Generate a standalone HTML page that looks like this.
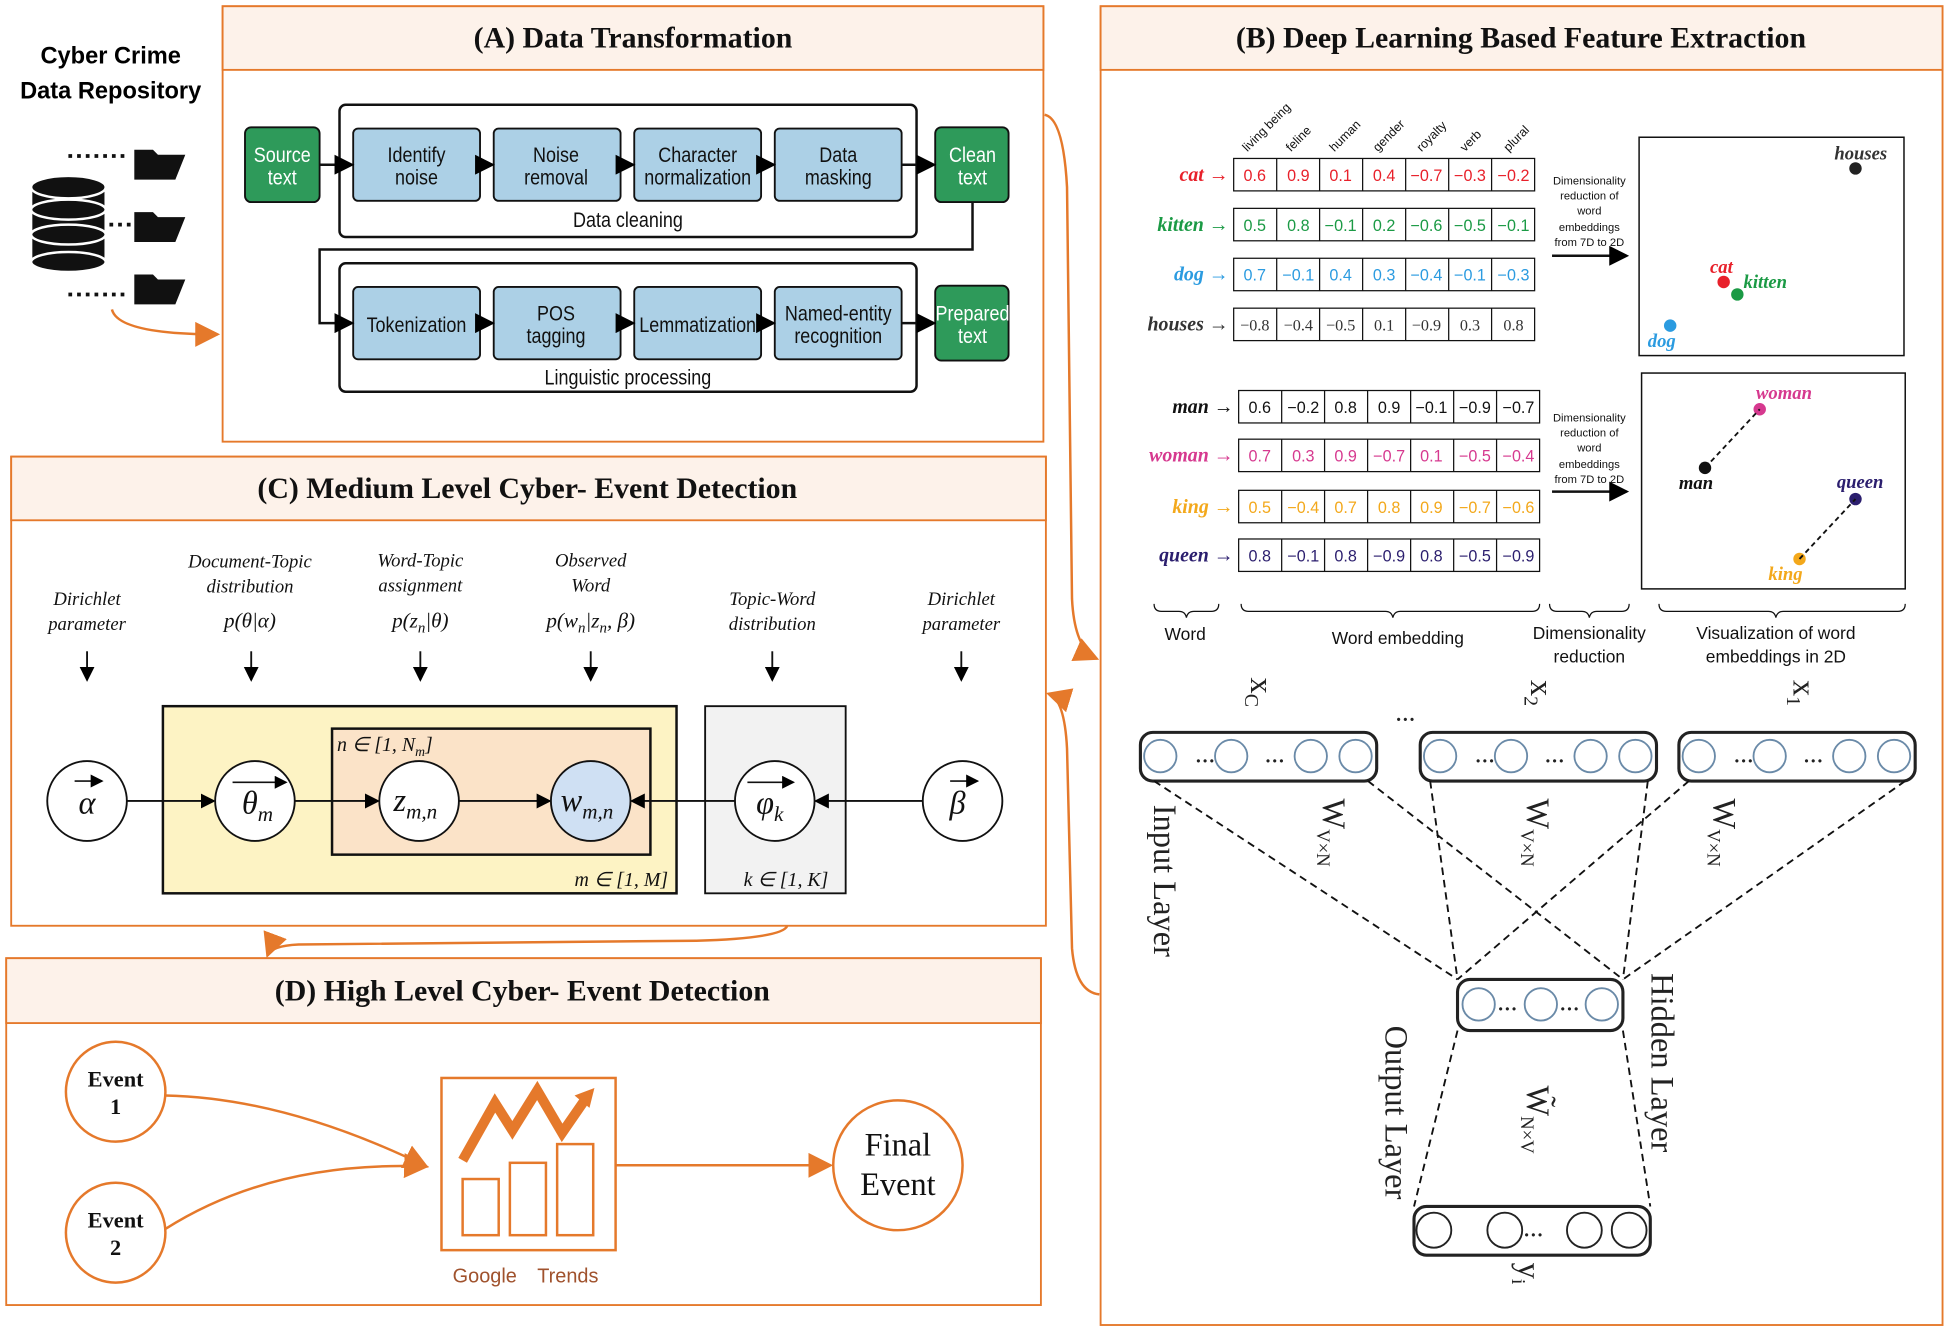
<!DOCTYPE html>
<html><head><meta charset="utf-8"><style>
html,body{margin:0;padding:0;background:#fff;}
svg{display:block}
.s{font-family:"Liberation Sans",sans-serif}
.r{font-family:"Liberation Serif",serif}
</style></head><body>
<svg width="1950" height="1330" viewBox="0 0 1568 1066" preserveAspectRatio="none" xmlns="http://www.w3.org/2000/svg">
<defs>
<marker id="ab" markerWidth="8" markerHeight="8" refX="7" refY="4" orient="auto"><path d="M0,0 L8,4 L0,8 z" fill="#000"/></marker>
<marker id="ao" markerWidth="10" markerHeight="10" refX="9" refY="5" orient="auto"><path d="M0,0 L10,5 L0,10 z" fill="#e5792b"/></marker>
</defs>
<rect width="1568" height="1066" fill="#fff"/>
<g stroke="#e5792b" stroke-width="1.5">
<rect x="179" y="5" width="660" height="349" fill="#fff"/><rect x="179" y="5" width="660" height="51" fill="#fdf2ea"/>
<rect x="885" y="5" width="677" height="1057" fill="#fff"/><rect x="885" y="5" width="677" height="51" fill="#fdf2ea"/>
<rect x="9" y="366" width="832" height="376" fill="#fff"/><rect x="9" y="366" width="832" height="51" fill="#fdf2ea"/>
<rect x="5" y="768" width="832" height="278" fill="#fff"/><rect x="5" y="768" width="832" height="52" fill="#fdf2ea"/>
</g>
<g class="r" font-weight="bold" font-size="24" text-anchor="middle" fill="#111">
<text x="509" y="38">(A) Data Transformation</text>
<text x="1223" y="38">(B) Deep Learning Based Feature Extraction</text>
<text x="424" y="399">(C) Medium Level Cyber- Event Detection</text>
<text x="420" y="802">(D) High Level Cyber- Event Detection</text>
</g>
<g class="s" font-weight="bold" font-size="19" text-anchor="middle"><text x="89" y="51">Cyber Crime</text><text x="89" y="79">Data Repository</text></g>
<g fill="#111" stroke="#fff" stroke-width="2">
<rect x="25" y="150" width="60" height="60"/>
<ellipse cx="55" cy="210" rx="30" ry="8"/>
<ellipse cx="55" cy="188" rx="30" ry="8"/>
<ellipse cx="55" cy="168" rx="30" ry="8"/>
<ellipse cx="55" cy="150" rx="30" ry="9"/>
</g>
<g stroke="#111" stroke-width="3" stroke-dasharray="3,4"><line x1="55" y1="125" x2="100" y2="125"/><line x1="55" y1="236" x2="100" y2="236"/><line x1="88" y1="180" x2="106" y2="180"/></g>
<g fill="#111"><path d="M108,120 h15 l4,4 h22 l-8,20 h-33z"/><path d="M108,170 h15 l4,4 h22 l-8,20 h-33z"/><path d="M108,220 h15 l4,4 h22 l-8,20 h-33z"/></g>
<path d="M90,248 Q95,268 175,268" fill="none" stroke="#e5792b" stroke-width="2" marker-end="url(#ao)"/>
<g fill="none" stroke="#111" stroke-width="2"><rect x="273" y="84" width="464" height="106" rx="5"/><rect x="273" y="211" width="464" height="103" rx="5"/></g>
<g stroke="#111" stroke-width="1.5">
<rect x="197" y="102" width="60" height="60" rx="5" fill="#2e9a5a"/><rect x="752" y="102" width="59" height="60" rx="5" fill="#2e9a5a"/><rect x="752" y="229" width="59" height="60" rx="5" fill="#2e9a5a"/>
<g fill="#acd0e6"><rect x="284" y="103" width="102" height="58" rx="4"/><rect x="397" y="103" width="102" height="58" rx="4"/><rect x="510" y="103" width="102" height="58" rx="4"/><rect x="623" y="103" width="102" height="58" rx="4"/>
<rect x="284" y="230" width="102" height="58" rx="4"/><rect x="397" y="230" width="102" height="58" rx="4"/><rect x="510" y="230" width="102" height="58" rx="4"/><rect x="623" y="230" width="102" height="58" rx="4"/></g>
</g>
<g stroke="#111" stroke-width="2" fill="none" marker-end="url(#ab)">
<line x1="257" y1="132" x2="283" y2="132"/><line x1="386" y1="132" x2="396" y2="132"/><line x1="499" y1="132" x2="509" y2="132"/><line x1="612" y1="132" x2="622" y2="132"/><line x1="725" y1="132" x2="751" y2="132"/>
<path d="M782,162 V200 H257 V259 H283"/><line x1="386" y1="259" x2="396" y2="259"/><line x1="499" y1="259" x2="509" y2="259"/><line x1="612" y1="259" x2="622" y2="259"/><line x1="725" y1="259" x2="751" y2="259"/>
</g>
<g class="s" font-size="17" text-anchor="middle" fill="#111" transform="scale(0.85,1)">
<g fill="#fff"><text x="267" y="130">Source</text><text x="267" y="148">text</text><text x="920" y="130">Clean</text><text x="920" y="148">text</text><text x="920" y="257">Prepared</text><text x="920" y="275">text</text></g>
<text x="394" y="130">Identify</text><text x="394" y="148">noise</text>
<text x="526" y="130">Noise</text><text x="526" y="148">removal</text>
<text x="660" y="130">Character</text><text x="660" y="148">normalization</text>
<text x="793" y="130">Data</text><text x="793" y="148">masking</text>
<text x="594" y="182">Data cleaning</text>
<text x="394" y="266">Tokenization</text>
<text x="526" y="257">POS</text><text x="526" y="275">tagging</text>
<text x="660" y="266">Lemmatization</text>
<text x="793" y="257">Named-entity</text><text x="793" y="275">recognition</text>
<text x="594" y="308">Linguistic processing</text>
</g>
<g class="s" font-size="10" fill="#111">
<text transform="translate(1003,122) rotate(-45)">living being</text><text transform="translate(1038,122) rotate(-45)">feline</text><text transform="translate(1073,122) rotate(-45)">human</text><text transform="translate(1108,122) rotate(-45)">gender</text><text transform="translate(1143,122) rotate(-45)">royalty</text><text transform="translate(1178,122) rotate(-45)">verb</text><text transform="translate(1213,122) rotate(-45)">plural</text>
</g>
<g class="r" font-style="italic" font-weight="bold" text-anchor="end" font-size="16">
<text x="988" y="145" fill="#e8202a">cat →</text><text x="988" y="185" fill="#1b9a45">kitten →</text><text x="988" y="225" fill="#2b9be0">dog →</text><text x="988" y="265" fill="#333">houses →</text>
<text x="992" y="331" fill="#111">man →</text><text x="992" y="370" fill="#d6398f">woman →</text><text x="992" y="411" fill="#f3a81b">king →</text><text x="992" y="450" fill="#2b1e6e">queen →</text>
</g>
<g stroke="#111" stroke-width="1" fill="none">
<rect x="992" y="127" width="242" height="26"/><rect x="992" y="167" width="242" height="26"/><rect x="992" y="207" width="242" height="26"/><rect x="992" y="247" width="242" height="26"/>
<rect x="996" y="313" width="242" height="26"/><rect x="996" y="352" width="242" height="26"/><rect x="996" y="393" width="242" height="26"/><rect x="996" y="432" width="242" height="26"/>
<path d="M1026.6,127v26M1061.1,127v26M1095.7,127v26M1130.3,127v26M1164.9,127v26M1199.4,127v26 M1026.6,167v26M1061.1,167v26M1095.7,167v26M1130.3,167v26M1164.9,167v26M1199.4,167v26 M1026.6,207v26M1061.1,207v26M1095.7,207v26M1130.3,207v26M1164.9,207v26M1199.4,207v26 M1026.6,247v26M1061.1,247v26M1095.7,247v26M1130.3,247v26M1164.9,247v26M1199.4,247v26"/>
<path d="M1030.6,313v26M1065.1,313v26M1099.7,313v26M1134.3,313v26M1168.9,313v26M1203.4,313v26 M1030.6,352v26M1065.1,352v26M1099.7,352v26M1134.3,352v26M1168.9,352v26M1203.4,352v26 M1030.6,393v26M1065.1,393v26M1099.7,393v26M1134.3,393v26M1168.9,393v26M1203.4,393v26 M1030.6,432v26M1065.1,432v26M1099.7,432v26M1134.3,432v26M1168.9,432v26M1203.4,432v26"/>
</g>
<g class="s" font-size="13" text-anchor="middle">
<g fill="#e8202a"><text x="1009" y="145">0.6</text><text x="1044" y="145">0.9</text><text x="1078" y="145">0.1</text><text x="1113" y="145">0.4</text><text x="1147" y="145">−0.7</text><text x="1182" y="145">−0.3</text><text x="1217" y="145">−0.2</text></g>
<g fill="#1b9a45"><text x="1009" y="185">0.5</text><text x="1044" y="185">0.8</text><text x="1078" y="185">−0.1</text><text x="1113" y="185">0.2</text><text x="1147" y="185">−0.6</text><text x="1182" y="185">−0.5</text><text x="1217" y="185">−0.1</text></g>
<g fill="#2b9be0"><text x="1009" y="225">0.7</text><text x="1044" y="225">−0.1</text><text x="1078" y="225">0.4</text><text x="1113" y="225">0.3</text><text x="1147" y="225">−0.4</text><text x="1182" y="225">−0.1</text><text x="1217" y="225">−0.3</text></g>
<g fill="#333" class="r"><text x="1009" y="265">−0.8</text><text x="1044" y="265">−0.4</text><text x="1078" y="265">−0.5</text><text x="1113" y="265">0.1</text><text x="1147" y="265">−0.9</text><text x="1182" y="265">0.3</text><text x="1217" y="265">0.8</text></g>
<g fill="#111"><text x="1013" y="331">0.6</text><text x="1048" y="331">−0.2</text><text x="1082" y="331">0.8</text><text x="1117" y="331">0.9</text><text x="1151" y="331">−0.1</text><text x="1186" y="331">−0.9</text><text x="1221" y="331">−0.7</text></g>
<g fill="#d6398f"><text x="1013" y="370">0.7</text><text x="1048" y="370">0.3</text><text x="1082" y="370">0.9</text><text x="1117" y="370">−0.7</text><text x="1151" y="370">0.1</text><text x="1186" y="370">−0.5</text><text x="1221" y="370">−0.4</text></g>
<g fill="#f3a81b"><text x="1013" y="411">0.5</text><text x="1048" y="411">−0.4</text><text x="1082" y="411">0.7</text><text x="1117" y="411">0.8</text><text x="1151" y="411">0.9</text><text x="1186" y="411">−0.7</text><text x="1221" y="411">−0.6</text></g>
<g fill="#2b1e6e"><text x="1013" y="450">0.8</text><text x="1048" y="450">−0.1</text><text x="1082" y="450">0.8</text><text x="1117" y="450">−0.9</text><text x="1151" y="450">0.8</text><text x="1186" y="450">−0.5</text><text x="1221" y="450">−0.9</text></g>
</g>
<g class="s" font-size="9" text-anchor="middle" fill="#111">
<text x="1278" y="148">Dimensionality</text><text x="1278" y="160">reduction of</text><text x="1278" y="172">word</text><text x="1278" y="185">embeddings</text><text x="1278" y="197">from 7D to 2D</text>
<text x="1278" y="338">Dimensionality</text><text x="1278" y="350">reduction of</text><text x="1278" y="362">word</text><text x="1278" y="375">embeddings</text><text x="1278" y="387">from 7D to 2D</text>
</g>
<g stroke="#111" stroke-width="2" marker-end="url(#ab)"><line x1="1248" y1="205" x2="1308" y2="205"/><line x1="1248" y1="394" x2="1308" y2="394"/></g>
<g fill="none" stroke="#111" stroke-width="1.2"><rect x="1318" y="110" width="213" height="175"/><rect x="1320" y="299" width="212" height="173"/></g>
<g class="r" font-style="italic" font-weight="bold" font-size="15">
<circle cx="1492" cy="135" r="5" fill="#222"/><text x="1475" y="128" fill="#333">houses</text>
<circle cx="1386" cy="226" r="5" fill="#e8202a"/><text x="1375" y="219" fill="#e8202a">cat</text>
<circle cx="1397" cy="236" r="5" fill="#1b9a45"/><text x="1402" y="231" fill="#1b9a45">kitten</text>
<circle cx="1343" cy="261" r="5" fill="#2b9be0"/><text x="1325" y="278" fill="#2b9be0">dog</text>
<circle cx="1415" cy="328" r="5" fill="#d6398f"/><text x="1412" y="320" fill="#d6398f">woman</text>
<circle cx="1371" cy="375" r="5" fill="#111"/><text x="1350" y="392" fill="#111">man</text>
<circle cx="1492" cy="400" r="5" fill="#2b1e6e"/><text x="1477" y="391" fill="#2b1e6e">queen</text>
<circle cx="1447" cy="448" r="5" fill="#f3a81b"/><text x="1422" y="465" fill="#f3a81b">king</text>
</g>
<g stroke="#111" stroke-width="1.5" stroke-dasharray="4,3"><line x1="1371" y1="375" x2="1415" y2="328"/><line x1="1447" y1="448" x2="1492" y2="400"/></g>
<g fill="none" stroke="#111" stroke-width="1"><path d="M928,484 q0,6 6,6 h14 q5,0 6,5 q1,-5 6,-5 h14 q6,0 6,-6"/><path d="M998,484 q0,6 6,6 h110 q5,0 6,5 q1,-5 6,-5 h106 q6,0 6,-6"/><path d="M1246,484 q0,6 6,6 h20 q5,0 6,5 q1,-5 6,-5 h20 q6,0 6,-6"/><path d="M1334,484 q0,6 6,6 h82 q5,0 6,5 q1,-5 6,-5 h92 q6,0 6,-6"/></g>
<g class="s" font-size="14" text-anchor="middle" fill="#111"><text x="953" y="513">Word</text><text x="1124" y="516">Word embedding</text><text x="1278" y="512">Dimensionality</text><text x="1278" y="531">reduction</text><text x="1428" y="512">Visualization of word</text><text x="1428" y="531">embeddings  in 2D</text></g>
<g stroke="#222" stroke-width="2.5" fill="#fff"><rect x="917" y="587" width="190" height="39" rx="10"/><rect x="1142" y="587" width="190" height="39" rx="10"/><rect x="1350" y="587" width="190" height="39" rx="10"/><rect x="1172" y="785" width="133" height="41" rx="10"/><rect x="1137" y="967" width="190" height="39" rx="10"/></g>
<g stroke="#6a8aa8" stroke-width="1.5" fill="#fff">
<circle cx="933" cy="606" r="13"/><circle cx="990" cy="606" r="13"/><circle cx="1054" cy="606" r="13"/><circle cx="1090" cy="606" r="13"/>
<circle cx="1158" cy="606" r="13"/><circle cx="1215" cy="606" r="13"/><circle cx="1279" cy="606" r="13"/><circle cx="1315" cy="606" r="13"/>
<circle cx="1366" cy="606" r="13"/><circle cx="1423" cy="606" r="13"/><circle cx="1487" cy="606" r="13"/><circle cx="1523" cy="606" r="13"/>
<circle cx="1189" cy="805" r="13"/><circle cx="1239" cy="805" r="13"/><circle cx="1288" cy="805" r="13"/>
</g>
<g stroke="#222" stroke-width="1.5" fill="#fff"><circle cx="1153" cy="986" r="14"/><circle cx="1210" cy="986" r="14"/><circle cx="1274" cy="986" r="14"/><circle cx="1310" cy="986" r="14"/></g>
<g class="r" font-size="16" font-weight="bold" fill="#222"><text x="961" y="611">…</text><text x="1017" y="611">…</text><text x="1186" y="611">…</text><text x="1242" y="611">…</text><text x="1394" y="611">…</text><text x="1450" y="611">…</text><text x="1204" y="810">…</text><text x="1254" y="810">…</text><text x="1225" y="991">…</text><text x="1122" y="578">…</text></g>
<g stroke="#111" stroke-width="1.5" stroke-dasharray="6,4" fill="none">
<line x1="928" y1="626" x2="1172" y2="785"/><line x1="1100" y1="626" x2="1305" y2="785"/><line x1="1150" y1="626" x2="1172" y2="785"/><line x1="1325" y1="626" x2="1305" y2="785"/><line x1="1358" y1="626" x2="1172" y2="785"/><line x1="1532" y1="626" x2="1305" y2="785"/>
<line x1="1172" y1="826" x2="1137" y2="967"/><line x1="1305" y1="826" x2="1327" y2="967"/>
</g>
<g class="r" font-size="26" fill="#222">
<text transform="translate(1006,543) rotate(90)">x<tspan font-size="16" dy="5">C</tspan></text>
<text transform="translate(1231,545) rotate(90)">x<tspan font-size="16" dy="5">2</tspan></text>
<text transform="translate(1442,545) rotate(90)">x<tspan font-size="16" dy="5">1</tspan></text>
<text transform="translate(1221,1012) rotate(90)">y<tspan font-size="16" dy="5">i</tspan></text>
<text transform="translate(928,645) rotate(90)">Input Layer</text>
<text transform="translate(1328,780) rotate(90)">Hidden Layer</text>
<text transform="translate(1114,822) rotate(90)">Output Layer</text>
<text transform="translate(1064,640) rotate(90)">W<tspan font-size="15" dy="5">V×N</tspan></text>
<text transform="translate(1228,640) rotate(90)">W<tspan font-size="15" dy="5">V×N</tspan></text>
<text transform="translate(1378,640) rotate(90)">W<tspan font-size="15" dy="5">V×N</tspan></text>
<text transform="translate(1228,870) rotate(90)">W̃<tspan font-size="15" dy="5">N×V</tspan></text>
</g>
<rect x="131" y="566" width="413" height="150" fill="#fdf3c4" stroke="#111" stroke-width="2"/>
<rect x="267" y="584" width="256" height="101" fill="#fbe3c8" stroke="#111" stroke-width="2"/>
<rect x="567" y="566" width="113" height="150" fill="#f2f2f2" stroke="#111" stroke-width="1.5"/>
<g stroke="#111" stroke-width="1.5" marker-end="url(#ab)"><line x1="102" y1="642" x2="172" y2="642"/><line x1="237" y1="642" x2="304" y2="642"/><line x1="369" y1="642" x2="442" y2="642"/><line x1="591" y1="642" x2="508" y2="642"/><line x1="742" y1="642" x2="656" y2="642"/>
<line x1="70" y1="522" x2="70" y2="545"/><line x1="202" y1="522" x2="202" y2="545"/><line x1="338" y1="522" x2="338" y2="545"/><line x1="475" y1="522" x2="475" y2="545"/><line x1="621" y1="522" x2="621" y2="545"/><line x1="773" y1="522" x2="773" y2="545"/></g>
<g stroke="#111" stroke-width="1.5"><circle cx="70" cy="642" r="32" fill="#fff"/><circle cx="205" cy="642" r="32" fill="#fff"/><circle cx="337" cy="642" r="32" fill="#fff"/><circle cx="475" cy="642" r="32" fill="#cfe0f3"/><circle cx="623" cy="642" r="32" fill="#fff"/><circle cx="774" cy="642" r="32" fill="#fff"/></g>
<g class="r" font-style="italic" font-size="26" text-anchor="middle" fill="#111">
<text x="70" y="652">α</text><text x="207" y="652">θ<tspan font-size="17" dy="6">m</tspan></text><text x="334" y="650">z<tspan font-size="17" dy="6">m,n</tspan></text><text x="472" y="650">w<tspan font-size="17" dy="6">m,n</tspan></text><text x="619" y="652">φ<tspan font-size="17" dy="6">k</tspan></text><text x="770" y="652">β</text>
</g>
<g stroke="#111" stroke-width="1.3" marker-end="url(#ab)"><line x1="60" y1="626" x2="82" y2="626"/><line x1="764" y1="626" x2="786" y2="626"/><line x1="187" y1="627" x2="230" y2="627"/><line x1="601" y1="627" x2="638" y2="627"/></g>
<g class="r" font-style="italic" font-size="16" fill="#111">
<text x="271" y="602">n ∈ [1, N<tspan font-size="11" dy="4">m</tspan><tspan dy="-4">]</tspan></text>
<text x="462" y="710">m ∈ [1, M]</text><text x="598" y="710">k ∈ [1, K]</text>
</g>
<g class="r" font-style="italic" font-size="15" text-anchor="middle" fill="#111">
<text x="70" y="485">Dirichlet</text><text x="70" y="505">parameter</text>
<text x="201" y="455">Document-Topic</text><text x="201" y="475">distribution</text><text x="201" y="503" font-size="17">p(θ|α)</text>
<text x="338" y="454">Word-Topic</text><text x="338" y="474">assignment</text><text x="338" y="503" font-size="17">p(z<tspan font-size="12" dy="4">n</tspan><tspan dy="-4">|θ)</tspan></text>
<text x="475" y="454">Observed</text><text x="475" y="474">Word</text><text x="475" y="503" font-size="17">p(w<tspan font-size="12" dy="4">n</tspan><tspan dy="-4">|z</tspan><tspan font-size="12" dy="4">n</tspan><tspan dy="-4">, β)</tspan></text>
<text x="621" y="485">Topic-Word</text><text x="621" y="505">distribution</text>
<text x="773" y="485">Dirichlet</text><text x="773" y="505">parameter</text>
</g>
<g stroke="#e5792b" stroke-width="2" fill="#fff"><circle cx="93" cy="875" r="40"/><circle cx="93" cy="988" r="40"/><circle cx="722" cy="934" r="52"/><rect x="355" y="864" width="140" height="138"/></g>
<g class="r" font-weight="bold" font-size="18" text-anchor="middle" fill="#111"><text x="93" y="871">Event</text><text x="93" y="893">1</text><text x="93" y="984">Event</text><text x="93" y="1006">2</text></g>
<g class="r" font-size="26" text-anchor="middle" fill="#111"><text x="722" y="926">Final</text><text x="722" y="958">Event</text></g>
<g fill="none" stroke="#e5792b" stroke-width="2">
<path d="M133,878 Q230,880 343,935" marker-end="url(#ao)"/><path d="M133,985 Q220,930 343,935" marker-end="url(#ao)"/><line x1="495" y1="934" x2="668" y2="934" marker-end="url(#ao)"/>
<rect x="372" y="945" width="29" height="45"/><rect x="410" y="932" width="29" height="58"/><rect x="448" y="917" width="29" height="73"/>
</g>
<path d="M372,930 L398,884 L412,906 L432,874 L452,908 L470,882" fill="none" stroke="#e5792b" stroke-width="8" stroke-linejoin="miter"/>
<path d="M462,878 l16,-6 l-4,16z" fill="#e5792b"/>
<g class="s" font-size="16" fill="#a0522d"><text x="364" y="1028">Google</text><text x="432" y="1028">Trends</text></g>
<g fill="none" stroke="#e5792b" stroke-width="2">
<path d="M840,92 Q855,95 858,150 L862,480 Q864,520 882,528" marker-end="url(#ao)"/>
<path d="M884,797 Q865,795 862,760 L858,600 Q856,560 843,556" marker-end="url(#ao)"/>
<path d="M633,742 Q630,752 560,754 L240,757 Q218,758 215,766" marker-end="url(#ao)"/>
</g>
</svg>
</body></html>
